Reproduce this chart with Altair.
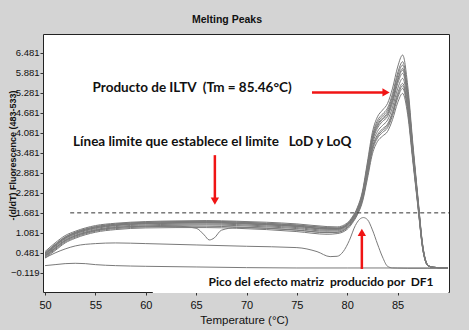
import altair as alt
import pandas as pd

# ---------------- data ----------------
temps = [50, 51, 52, 53, 55, 57, 60, 63, 66, 69, 72, 75, 78, 79, 80, 80.5, 81, 81.5,
         82, 82.5, 83, 83.5, 84, 84.5, 85, 85.5, 86, 86.5, 87, 87.5, 88, 88.5, 90]

curve_1 = [0.52, 0.78, 1.00, 1.13, 1.30, 1.37, 1.42, 1.44, 1.45, 1.43, 1.40, 1.35, 1.27, 1.26, 1.38, 1.56, 1.84,
           2.32, 3.20, 4.10, 4.56, 4.76, 4.96, 5.42, 6.05, 6.41, 5.50, 3.80, 2.20, 0.70, 0.12, 0.05, 0.03]
curve_2 = [0.48, 0.74, 0.96, 1.10, 1.27, 1.35, 1.40, 1.42, 1.43, 1.41, 1.37, 1.32, 1.24, 1.23, 1.35, 1.53, 1.80,
           2.27, 3.12, 4.00, 4.45, 4.64, 4.82, 5.26, 5.87, 6.21, 5.35, 3.70, 2.15, 0.68, 0.12, 0.05, 0.03]
curve_3 = [0.47, 0.72, 0.95, 1.09, 1.26, 1.34, 1.39, 1.41, 1.42, 1.40, 1.36, 1.31, 1.23, 1.22, 1.34, 1.52, 1.79,
           2.25, 3.08, 3.95, 4.38, 4.58, 4.75, 5.18, 5.78, 6.11, 5.28, 3.66, 2.12, 0.67, 0.11, 0.05, 0.03]
curve_4 = [0.45, 0.70, 0.93, 1.07, 1.24, 1.32, 1.37, 1.39, 1.40, 1.38, 1.34, 1.29, 1.21, 1.21, 1.33, 1.50, 1.77,
           2.22, 3.05, 3.90, 4.32, 4.52, 4.68, 5.10, 5.68, 6.01, 5.20, 3.62, 2.10, 0.66, 0.11, 0.05, 0.03]
curve_5 = [0.44, 0.69, 0.92, 1.06, 1.23, 1.31, 1.36, 1.38, 1.39, 1.37, 1.33, 1.28, 1.20, 1.20, 1.32, 1.49, 1.76,
           2.20, 3.02, 3.86, 4.28, 4.48, 4.63, 5.05, 5.63, 5.96, 5.15, 3.58, 2.08, 0.65, 0.11, 0.05, 0.03]
curve_6 = [0.42, 0.67, 0.90, 1.04, 1.21, 1.30, 1.35, 1.37, 1.38, 1.36, 1.32, 1.27, 1.19, 1.19, 1.31, 1.48, 1.75,
           2.18, 2.98, 3.82, 4.22, 4.42, 4.57, 4.98, 5.55, 5.86, 5.08, 3.55, 2.06, 0.64, 0.11, 0.05, 0.03]
curve_7 = [0.40, 0.64, 0.87, 1.01, 1.18, 1.27, 1.32, 1.34, 1.35, 1.33, 1.29, 1.24, 1.16, 1.17, 1.29, 1.46, 1.72,
           2.14, 2.92, 3.74, 4.12, 4.30, 4.46, 4.85, 5.40, 5.71, 4.96, 3.48, 2.02, 0.62, 0.10, 0.05, 0.03]
curve_8 = [0.38, 0.61, 0.84, 0.98, 1.15, 1.24, 1.29, 1.31, 1.32, 1.30, 1.26, 1.21, 1.13, 1.14, 1.26, 1.43, 1.69,
           2.10, 2.85, 3.65, 4.02, 4.20, 4.34, 4.72, 5.26, 5.56, 4.85, 3.40, 1.98, 0.60, 0.10, 0.05, 0.03]
curve_9 = [0.36, 0.58, 0.81, 0.95, 1.13, 1.21, 1.26, 1.28, 1.28, 1.26, 1.22, 1.16, 1.09, 1.10, 1.23, 1.40, 1.66,
           2.05, 2.78, 3.55, 3.92, 4.09, 4.23, 4.60, 5.12, 5.41, 4.74, 3.33, 1.94, 0.59, 0.10, 0.05, 0.03]
curve_10 = [0.33, 0.55, 0.78, 0.92, 1.10, 1.18, 1.23, 1.24, 1.24, 1.22, 1.18, 1.12, 1.04, 1.06, 1.19, 1.37, 1.62,
            2.00, 2.70, 3.45, 3.82, 3.98, 4.12, 4.48, 4.98, 5.26, 4.62, 3.25, 1.90, 0.58, 0.10, 0.05, 0.03]

temps_dip = [50, 51, 52, 53, 55, 57, 60, 63, 65, 65.8, 66.3, 66.8, 67.5, 69, 72, 75, 78, 79, 80, 80.5, 81, 81.5,
             82, 82.5, 83, 83.5, 84, 84.5, 85, 85.5, 86, 86.5, 87, 87.5, 88, 88.5, 90]
curve_dip = [0.39, 0.62, 0.85, 0.99, 1.16, 1.24, 1.28, 1.28, 1.22, 1.02, 0.87, 0.93, 1.16, 1.24, 1.22, 1.17, 1.09,
             1.10, 1.24, 1.41, 1.67, 2.08, 2.82, 3.60, 3.97, 4.15, 4.29, 4.66, 5.19, 5.49, 4.80, 3.36, 1.96, 0.60,
             0.10, 0.05, 0.03]

temps_df1 = [50, 51, 52, 53, 55, 57, 60, 65, 70, 75, 77, 78.3, 79, 79.6, 80.2, 80.8, 81.2, 81.6, 82, 82.5, 83,
             83.5, 84, 84.5, 86, 88, 90]
curve_df1 = [0.33, 0.48, 0.60, 0.69, 0.76, 0.78, 0.76, 0.72, 0.68, 0.64, 0.52, 0.37, 0.38, 0.52, 0.85, 1.30, 1.48,
             1.54, 1.48, 1.17, 0.75, 0.36, 0.08, 0.03, 0.02, 0.02, 0.02]

temps_ntc = [50, 51, 52, 53, 54, 55, 57, 60, 65, 70, 75, 80, 85, 90]
curve_ntc = [0.10, 0.13, 0.16, 0.17, 0.16, 0.13, 0.10, 0.08, 0.06, 0.04, 0.03, 0.03, 0.03, 0.03]

x_ticks = [50, 55, 60, 65, 70, 75, 80, 85]
y_ticks = [6.481, 5.881, 5.281, 4.681, 4.081, 3.481, 2.881, 2.281, 1.681, 1.081, 0.481, -0.119]
limit_level = 1.681

# ---------------- build table ----------------
series = [("c1", temps, curve_1), ("c2", temps, curve_2), ("c3", temps, curve_3), ("c4", temps, curve_4),
          ("c5", temps, curve_5), ("c6", temps, curve_6), ("c7", temps, curve_7), ("c8", temps, curve_8),
          ("c9", temps, curve_9), ("c10", temps, curve_10), ("dip", temps_dip, curve_dip),
          ("df1", temps_df1, curve_df1), ("ntc", temps_ntc, curve_ntc)]
rows = []
for name, ts, vs in series:
    for i, (t, v) in enumerate(zip(ts, vs)):
        rows.append({"series": name, "T": t, "v": v, "i": i})
df = pd.DataFrame(rows)

X_DOM = [49.8, 90.1]
Y_DOM = [-0.69, 7.04]
PLOT_W, PLOT_H = 406, 258

LABEL_FONT = "Liberation Sans Narrow, Arial Narrow, Liberation Sans"
ANN_FONT = "Lato"
RED = "#f01414"

xs = alt.Scale(domain=X_DOM, nice=False, zero=False)
ys = alt.Scale(domain=Y_DOM, nice=False, zero=False)

x_axis = alt.Axis(
    values=x_ticks, format="d", title="Temperature (°C)", grid=False, domain=False,
    tickSize=3, tickColor="#333", labelFont=LABEL_FONT, labelFontSize=11, labelColor="#111",
    labelPadding=4, labelOverlap=False, titleFont=LABEL_FONT, titleFontSize=11.5,
    titleFontWeight="normal", titleColor="#111", titleX=201, titleY=28, titleAlign="center",
    titleBaseline="middle")
y_axis = alt.Axis(
    values=y_ticks, format=".3f", title="-(d/dT) Fluorescence (483-533)", grid=False, domain=False,
    tickSize=3, tickColor="#333", labelFont=LABEL_FONT, labelFontSize=9.5, labelColor="#111",
    labelPadding=1, labelOverlap=False, labelBound=False,
    titleFont="Liberation Sans", titleFontSize=9, titleFontWeight="bold",
    titleColor="#111", titleX=-31, titleY=121, titleBaseline="middle", titleAlign="center",
    titleAngle=270)


def X(field):
    return alt.X(field, scale=xs, axis=x_axis)


def Y(field):
    return alt.Y(field, scale=ys, axis=y_axis)


lines = alt.Chart(df).mark_line(color="#7a7a7a", strokeWidth=1, interpolate="monotone").encode(
    x=X("T:Q"), y=Y("v:Q"), detail="series:N", order="i:Q")

limit_df = pd.DataFrame({"T": [52.5], "T2": [90.1], "v": [limit_level]})
limit = alt.Chart(limit_df).mark_rule(color="#333", strokeWidth=1, strokeDash=[4, 3]).encode(
    x=X("T:Q"), x2="T2:Q", y=Y("v:Q"))

# white label box for bottom annotation
box_df = pd.DataFrame({"T": [60.7], "T2": [90.05], "v": [-0.06], "v2": [-0.72]})
box = alt.Chart(box_df).mark_rect(color="white").encode(
    x=X("T:Q"), x2="T2:Q", y=Y("v:Q"), y2="v2:Q")

# annotation texts
ann_df = pd.DataFrame({
    "T": [64.6, 66.6, 77.4],
    "v": [5.42, 3.81, -0.40],
    "fs": [13.5, 13.5, 12],
    "label": ["Producto de ILTV\u00a0 (Tm = 85.46°C)",
              "Línea limite que establece el limite \u00a0 LoD y LoQ",
              "Pico del efecto matriz\u00a0 producido por\u00a0 DF1"],
})
texts = alt.Chart(ann_df).mark_text(font=ANN_FONT, fontWeight="bold", color="#111",
                                    align="center", baseline="middle").encode(
    x=X("T:Q"), y=Y("v:Q"), text="label:N", size=alt.Size("fs:Q", scale=None, legend=None))

# arrows
arrow_df = pd.DataFrame({
    "T": [76.5, 66.86, 81.45], "T2": [83.6, 66.86, 81.45],
    "v": [5.29, 3.41, 0.0], "v2": [5.29, 2.12, 1.0],
})
shafts = alt.Chart(arrow_df).mark_rule(color=RED, strokeWidth=2.5).encode(
    x=X("T:Q"), x2="T2:Q", y=Y("v:Q"), y2="v2:Q")
head_df = pd.DataFrame({
    "T": [83.85, 66.86, 81.45], "v": [5.29, 2.03, 1.10],
    "shape": ["triangle-right", "triangle-down", "triangle-up"],
})
heads = alt.Chart(head_df).mark_point(filled=True, color=RED, opacity=1, size=70).encode(
    x=X("T:Q"), y=Y("v:Q"),
    shape=alt.Shape("shape:N", scale=None, legend=None))

chart = alt.layer(lines, limit, box, texts, shafts, heads).properties(
    width=PLOT_W, height=PLOT_H,
    title=alt.TitleParams("Melting Peaks", font="Liberation Sans", fontSize=10.5, fontWeight="bold",
                          color="#111", anchor="middle", dx=-19, offset=9),
    padding={"left": 43, "top": 34, "right": 20, "bottom": 38},
    autosize=alt.AutoSizeParams(type="none"),
).configure(background="#d4d4d4").configure_view(
    fill="white", stroke="#222", strokeWidth=1
).configure_axis(labelOverlap=False)

chart.save("out.html", embed_options={"renderer": "svg", "actions": False})
